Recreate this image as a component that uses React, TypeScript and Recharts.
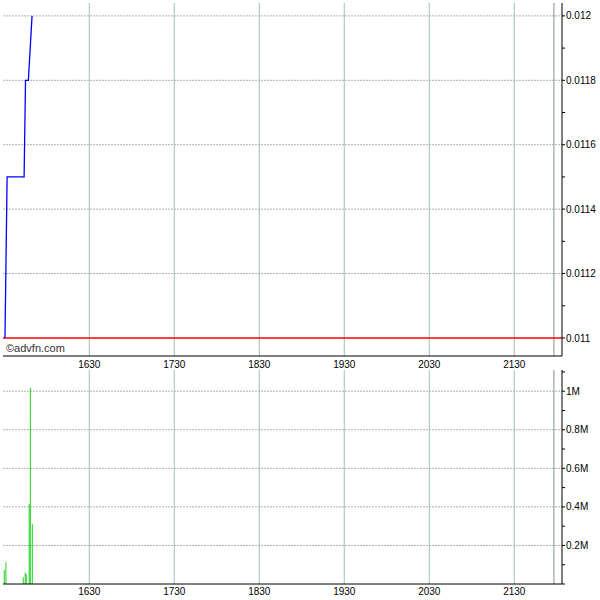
import React from 'react';
import { ComposedChart, Line, Bar, XAxis, YAxis, CartesianGrid, ReferenceLine } from 'recharts';

// time expressed as minutes after midnight
const priceTimes = [930.5, 932, 944, 945, 947, 949.6];
const priceValues = [0.011, 0.0115, 0.0115, 0.0118, 0.0118, 0.012];
const volumeTimes = [930, 931.2, 943.4, 944.8, 945.5, 947.6, 948.4, 949.8];
const volumeValues = [72000, 113000, 35000, 60000, 50000, 415000, 1016000, 313000];
const timeTicks = [990, 1050, 1110, 1170, 1230, 1290];
const timeDomain = [929.1, 1323.7];
const sessionEnd = 1318;
const priceTicks = [0.011, 0.0111, 0.0112, 0.0113, 0.0114, 0.0115, 0.0116, 0.0117, 0.0118, 0.0119, 0.012];
const priceGrid = [0.0112, 0.0114, 0.0116, 0.0118, 0.012];
const priceDomain = [0.010944, 0.01204];
const prevClose = 0.011;
const volumeTicks = [0, 100000, 200000, 300000, 400000, 500000, 600000, 700000, 800000, 900000, 1000000, 1100000];
const volumeGrid = [200000, 400000, 600000, 800000, 1000000];
const volumeDomain = [0, 1110000];

const FONT = 'Liberation Sans, Arial, sans-serif';
const tickStyle = { fill: '#000', fontSize: 10, fontFamily: FONT };

const priceData = priceTimes.map((t, i) => ({ t, price: priceValues[i] }));
const volumeData = volumeTimes.map((t, i) => ({ t, vol: volumeValues[i] }));

const fmtTime = (v: number) => {
  const h = Math.floor(v / 60);
  const m = Math.round(v - h * 60);
  return String(h * 100 + m);
};
const fmtPrice = (v: number) => (Math.round(v * 10000) % 2 === 0 ? String(Number(v.toFixed(4))) : '');
const fmtVol = (v: number) => {
  const k = Math.round(v / 100000);
  if (k === 0 || k % 2 !== 0 || k > 10) return '';
  return String(Number((v / 1000000).toFixed(1))) + 'M';
};

const VGRID = '#9dbfbf';
const HGRID = '#b0b0b0';
const FRAME = '#000';

export default function App() {
  return (
    <div style={{ position: 'absolute', left: 0, top: 0, width: 600, height: 600, background: '#fff' }}>
      <div style={{ position: 'absolute', left: 0, top: 0 }}>
        <ComposedChart width={600} height={370} margin={{ top: 3, right: 0, bottom: 0, left: 3 }}>
          <XAxis xAxisId="b" type="number" dataKey="t" domain={timeDomain} ticks={timeTicks} interval={0}
            tickFormatter={fmtTime} allowDataOverflow height={14} tickLine={false} tickSize={0} tickMargin={5}
            axisLine={{ stroke: FRAME }} tick={tickStyle} />
          <XAxis xAxisId="t" orientation="top" type="number" dataKey="t" domain={timeDomain} allowDataOverflow
            height={0} tick={false} tickLine={false} axisLine={{ stroke: FRAME }} />
          <YAxis yAxisId="r" orientation="right" type="number" domain={priceDomain} ticks={priceTicks} interval={0}
            allowDataOverflow width={38} tickSize={3} tickMargin={1} tickFormatter={fmtPrice}
            tickLine={{ stroke: FRAME }} axisLine={{ stroke: FRAME }} tick={tickStyle} />
          <YAxis yAxisId="l" orientation="left" mirror type="number" domain={priceDomain} ticks={priceTicks} interval={0}
            allowDataOverflow width={0} tickSize={3} tick={false} tickLine={{ stroke: FRAME }} axisLine={{ stroke: FRAME }} />
          <CartesianGrid xAxisId="b" yAxisId="r" horizontal={false} verticalValues={timeTicks} stroke={VGRID} />
          <CartesianGrid xAxisId="b" yAxisId="r" vertical={false} horizontalValues={priceGrid} stroke={HGRID} strokeDasharray="2 1" />
          <ReferenceLine xAxisId="b" yAxisId="r" x={sessionEnd} stroke="#7f9090" />
          <ReferenceLine xAxisId="b" yAxisId="r" y={prevClose} stroke="#ff0000" strokeWidth={1.5} />
          <Line xAxisId="b" yAxisId="r" data={priceData} dataKey="price" type="linear" stroke="#0000ff"
            strokeWidth={1.3} dot={false} isAnimationActive={false} />
        </ComposedChart>
      </div>
      <div style={{ position: 'absolute', left: 6, top: 342, fontSize: 11, lineHeight: '12px', fontFamily: FONT, color: '#333' }}>
        ©advfn.com
      </div>
      <div style={{ position: 'absolute', left: 0, top: 367 }}>
        <ComposedChart width={600} height={233} data={volumeData} margin={{ top: 3, right: 0, bottom: 0, left: 3 }}>
          <XAxis xAxisId="b" type="number" dataKey="t" domain={timeDomain} ticks={timeTicks} interval={0}
            tickFormatter={fmtTime} allowDataOverflow height={16} tickLine={false} tickSize={0} tickMargin={4}
            axisLine={{ stroke: FRAME }} tick={tickStyle} />
          <XAxis xAxisId="t" orientation="top" type="number" dataKey="t" domain={timeDomain} allowDataOverflow
            height={0} tick={false} tickLine={false} axisLine={{ stroke: FRAME }} />
          <YAxis yAxisId="r" orientation="right" type="number" domain={volumeDomain} ticks={volumeTicks} interval={0}
            allowDataOverflow width={38} tickSize={3} tickMargin={1} tickFormatter={fmtVol}
            tickLine={{ stroke: FRAME }} axisLine={{ stroke: FRAME }} tick={tickStyle} />
          <YAxis yAxisId="l" orientation="left" mirror type="number" domain={volumeDomain} ticks={volumeTicks} interval={0}
            allowDataOverflow width={0} tickSize={3} tick={false} tickLine={{ stroke: FRAME }} axisLine={{ stroke: FRAME }} />
          <CartesianGrid xAxisId="b" yAxisId="r" horizontal={false} verticalValues={timeTicks} stroke={VGRID} />
          <CartesianGrid xAxisId="b" yAxisId="r" vertical={false} horizontalValues={volumeGrid} stroke={HGRID} strokeDasharray="2 1" />
          <ReferenceLine xAxisId="b" yAxisId="r" x={sessionEnd} stroke="#7f9090" />
          <Bar xAxisId="b" yAxisId="r" dataKey="vol" fill="#00cc00" barSize={1.5} isAnimationActive={false} />
        </ComposedChart>
      </div>
    </div>
  );
}
